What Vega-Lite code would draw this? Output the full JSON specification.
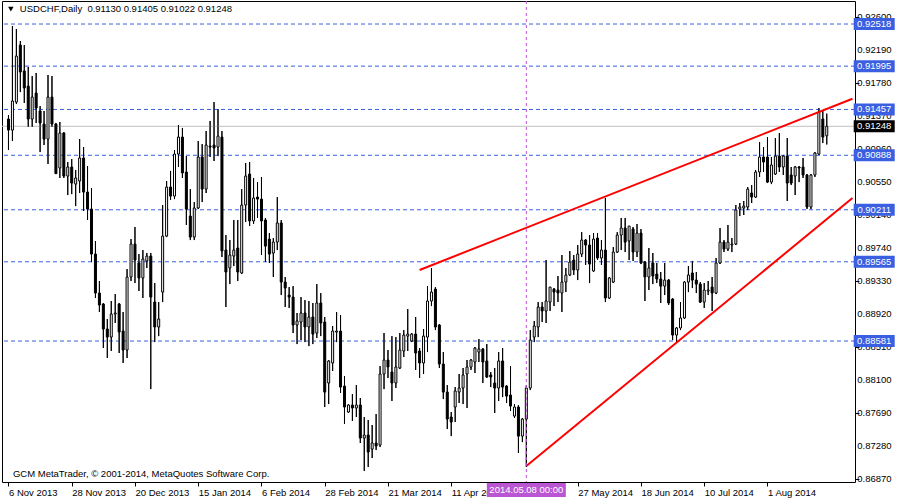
{
"$schema": "https://vega.github.io/schema/vega-lite/v6.json",
"width": 853, "height": 481,
"autosize": {"type": "none"},
"padding": {"left": 2, "top": 1, "right": 45, "bottom": 18},
"background": "white",
"config": {"view": {"stroke": "black", "strokeWidth": 1}, "font": "Liberation Sans"},
"datasets": {
"priceticks": [{"p":0.926},{"p":0.9219},{"p":0.9178},{"p":0.9137},{"p":0.9096},{"p":0.9055},{"p":0.9014},{"p":0.8974},{"p":0.8933},{"p":0.8892},{"p":0.8851},{"p":0.881},{"p":0.8769},{"p":0.8728},{"p":0.8687}],
"levels": [{"p":0.92518},{"p":0.91995},{"p":0.91457},{"p":0.90888},{"p":0.90211},{"p":0.89565},{"p":0.88581}],
"bid": [{"p":0.91248}],
"trend": [{"line":"upper","i":104,"p":0.89463},{"line":"upper","i":213.5,"p":0.91590},{"line":"lower","i":131,"p":0.87028},{"line":"lower","i":213.5,"p":0.90357}],
"cursor": [{"i":131,"label":"2014.05.08 00:00"}],
"header": [{"label":"USDCHF,Daily\u00a0\u00a00.91130 0.91405 0.91022 0.91248"}],
"footer": [{"label":"GCM MetaTrader, © 2001-2014, MetaQuotes Software Corp."}],
"candles": [
{"i":0,"o":0.91338,"h":0.91388,"l":0.90953,"c":0.91201},
{"i":1,"o":0.91201,"h":0.92493,"l":0.91065,"c":0.91562},
{"i":2,"o":0.91549,"h":0.92456,"l":0.91524,"c":0.92120},
{"i":3,"o":0.92257,"h":0.92307,"l":0.91673,"c":0.91922},
{"i":4,"o":0.91935,"h":0.92257,"l":0.91537,"c":0.91723},
{"i":5,"o":0.91747,"h":0.91984,"l":0.91239,"c":0.91338},
{"i":6,"o":0.91338,"h":0.91872,"l":0.91239,"c":0.91611},
{"i":7,"o":0.91661,"h":0.91910,"l":0.91289,"c":0.91475},
{"i":8,"o":0.91438,"h":0.91499,"l":0.90928,"c":0.91289},
{"i":9,"o":0.91276,"h":0.91438,"l":0.91015,"c":0.91089},
{"i":10,"o":0.91089,"h":0.91885,"l":0.90779,"c":0.91611},
{"i":11,"o":0.91611,"h":0.91872,"l":0.91239,"c":0.91276},
{"i":12,"o":0.91276,"h":0.91289,"l":0.90655,"c":0.90660},
{"i":13,"o":0.90730,"h":0.91301,"l":0.90606,"c":0.91164},
{"i":14,"o":0.91164,"h":0.91176,"l":0.90606,"c":0.90630},
{"i":15,"o":0.90630,"h":0.90804,"l":0.90394,"c":0.90742},
{"i":16,"o":0.90742,"h":0.90841,"l":0.90406,"c":0.90543},
{"i":17,"o":0.90530,"h":0.90705,"l":0.90257,"c":0.90606},
{"i":18,"o":0.90568,"h":0.91089,"l":0.90419,"c":0.90854},
{"i":19,"o":0.90854,"h":0.90990,"l":0.90196,"c":0.90431},
{"i":20,"o":0.90431,"h":0.90754,"l":0.90084,"c":0.90220},
{"i":21,"o":0.90220,"h":0.90481,"l":0.89562,"c":0.89661},
{"i":22,"o":0.89661,"h":0.89823,"l":0.89115,"c":0.89177},
{"i":23,"o":0.89177,"h":0.89326,"l":0.88941,"c":0.89028},
{"i":24,"o":0.89040,"h":0.89053,"l":0.88494,"c":0.88730},
{"i":25,"o":0.88730,"h":0.88854,"l":0.88370,"c":0.88630},
{"i":26,"o":0.88630,"h":0.89078,"l":0.88457,"c":0.88916},
{"i":27,"o":0.88916,"h":0.89164,"l":0.88805,"c":0.88929},
{"i":28,"o":0.89040,"h":0.89053,"l":0.88432,"c":0.88692},
{"i":29,"o":0.88705,"h":0.88941,"l":0.88308,"c":0.88469},
{"i":30,"o":0.88469,"h":0.89475,"l":0.88370,"c":0.89376},
{"i":31,"o":0.89376,"h":0.89847,"l":0.89326,"c":0.89785},
{"i":32,"o":0.89785,"h":0.89997,"l":0.89301,"c":0.89587},
{"i":33,"o":0.89550,"h":0.89661,"l":0.89202,"c":0.89364},
{"i":34,"o":0.89364,"h":0.89711,"l":0.89115,"c":0.89599},
{"i":35,"o":0.89575,"h":0.89674,"l":0.89488,"c":0.89636},
{"i":36,"o":0.89636,"h":0.89674,"l":0.87984,"c":0.89127},
{"i":37,"o":0.89065,"h":0.89301,"l":0.88568,"c":0.88755},
{"i":38,"o":0.88755,"h":0.89065,"l":0.88642,"c":0.88854},
{"i":39,"o":0.89189,"h":0.90270,"l":0.89065,"c":0.89884},
{"i":40,"o":0.89884,"h":0.90568,"l":0.89872,"c":0.90493},
{"i":41,"o":0.90493,"h":0.90693,"l":0.90332,"c":0.90381},
{"i":42,"o":0.90381,"h":0.90953,"l":0.90344,"c":0.90903},
{"i":43,"o":0.90903,"h":0.91264,"l":0.90742,"c":0.91114},
{"i":44,"o":0.91114,"h":0.91227,"l":0.90606,"c":0.90668},
{"i":45,"o":0.90680,"h":0.90878,"l":0.90022,"c":0.90220},
{"i":46,"o":0.90133,"h":0.90468,"l":0.89835,"c":0.89872},
{"i":47,"o":0.89872,"h":0.90307,"l":0.89835,"c":0.90233},
{"i":48,"o":0.90233,"h":0.91065,"l":0.90220,"c":0.90866},
{"i":49,"o":0.90866,"h":0.91027,"l":0.90307,"c":0.90468},
{"i":50,"o":0.90468,"h":0.91189,"l":0.90419,"c":0.91015},
{"i":51,"o":0.91002,"h":0.91314,"l":0.90866,"c":0.90990},
{"i":52,"o":0.91015,"h":0.91549,"l":0.90817,"c":0.90978},
{"i":53,"o":0.90990,"h":0.91462,"l":0.90878,"c":0.91126},
{"i":54,"o":0.91114,"h":0.91189,"l":0.89624,"c":0.89699},
{"i":55,"o":0.89711,"h":0.89897,"l":0.89003,"c":0.89438},
{"i":56,"o":0.89488,"h":0.89835,"l":0.89288,"c":0.89649},
{"i":57,"o":0.89636,"h":0.90084,"l":0.89512,"c":0.89711},
{"i":58,"o":0.89736,"h":0.90084,"l":0.89326,"c":0.89438},
{"i":59,"o":0.89426,"h":0.90468,"l":0.89413,"c":0.90270},
{"i":60,"o":0.90270,"h":0.90792,"l":0.90059,"c":0.90630},
{"i":61,"o":0.90655,"h":0.90804,"l":0.90009,"c":0.90072},
{"i":62,"o":0.90072,"h":0.90606,"l":0.90034,"c":0.90357},
{"i":63,"o":0.90369,"h":0.90555,"l":0.90109,"c":0.90344},
{"i":64,"o":0.90344,"h":0.90618,"l":0.89649,"c":0.90072},
{"i":65,"o":0.90084,"h":0.90109,"l":0.89562,"c":0.89760},
{"i":66,"o":0.89847,"h":0.89922,"l":0.89550,"c":0.89661},
{"i":67,"o":0.89674,"h":0.89860,"l":0.89376,"c":0.89810},
{"i":68,"o":0.89810,"h":0.90369,"l":0.89711,"c":0.90047},
{"i":69,"o":0.90047,"h":0.90084,"l":0.89152,"c":0.89313},
{"i":70,"o":0.89313,"h":0.89376,"l":0.89003,"c":0.89239},
{"i":71,"o":0.89152,"h":0.89251,"l":0.88991,"c":0.89127},
{"i":72,"o":0.89127,"h":0.89263,"l":0.88680,"c":0.88780},
{"i":73,"o":0.88780,"h":0.88929,"l":0.88543,"c":0.88830},
{"i":74,"o":0.88817,"h":0.89127,"l":0.88593,"c":0.88929},
{"i":75,"o":0.88929,"h":0.89090,"l":0.88568,"c":0.88755},
{"i":76,"o":0.88755,"h":0.89078,"l":0.88518,"c":0.88879},
{"i":77,"o":0.88879,"h":0.89053,"l":0.88543,"c":0.88667},
{"i":78,"o":0.88680,"h":0.89288,"l":0.88618,"c":0.89053},
{"i":79,"o":0.89053,"h":0.89177,"l":0.88642,"c":0.88805},
{"i":80,"o":0.88817,"h":0.88879,"l":0.87761,"c":0.87947},
{"i":81,"o":0.88059,"h":0.88345,"l":0.87798,"c":0.88333},
{"i":82,"o":0.88308,"h":0.88767,"l":0.88209,"c":0.88705},
{"i":83,"o":0.88692,"h":0.88941,"l":0.88568,"c":0.88705},
{"i":84,"o":0.88705,"h":0.88904,"l":0.87935,"c":0.88009},
{"i":85,"o":0.88021,"h":0.88146,"l":0.87550,"c":0.87761},
{"i":86,"o":0.87699,"h":0.87798,"l":0.87687,"c":0.87786},
{"i":87,"o":0.87786,"h":0.87922,"l":0.87588,"c":0.87749},
{"i":88,"o":0.87749,"h":0.88034,"l":0.87637,"c":0.87786},
{"i":89,"o":0.87786,"h":0.87873,"l":0.87314,"c":0.87376},
{"i":90,"o":0.87376,"h":0.87637,"l":0.86967,"c":0.87413},
{"i":91,"o":0.87413,"h":0.87600,"l":0.87016,"c":0.87202},
{"i":92,"o":0.87239,"h":0.87538,"l":0.87128,"c":0.87314},
{"i":93,"o":0.87314,"h":0.87674,"l":0.87227,"c":0.87276},
{"i":94,"o":0.87289,"h":0.88270,"l":0.87264,"c":0.88171},
{"i":95,"o":0.88171,"h":0.88680,"l":0.87984,"c":0.88345},
{"i":96,"o":0.88345,"h":0.88469,"l":0.88122,"c":0.88258},
{"i":97,"o":0.88196,"h":0.88642,"l":0.87836,"c":0.88059},
{"i":98,"o":0.88059,"h":0.88630,"l":0.87997,"c":0.88258},
{"i":99,"o":0.88246,"h":0.88680,"l":0.88233,"c":0.88469},
{"i":100,"o":0.88457,"h":0.88717,"l":0.88382,"c":0.88655},
{"i":101,"o":0.88642,"h":0.88978,"l":0.88457,"c":0.88667},
{"i":102,"o":0.88581,"h":0.88680,"l":0.88568,"c":0.88667},
{"i":103,"o":0.88667,"h":0.88879,"l":0.88221,"c":0.88432},
{"i":104,"o":0.88457,"h":0.88494,"l":0.88122,"c":0.88308},
{"i":105,"o":0.88308,"h":0.88730,"l":0.88171,"c":0.88642},
{"i":106,"o":0.88630,"h":0.89263,"l":0.88444,"c":0.89078},
{"i":107,"o":0.89078,"h":0.89488,"l":0.89015,"c":0.89189},
{"i":108,"o":0.89226,"h":0.89251,"l":0.88717,"c":0.88755},
{"i":109,"o":0.88780,"h":0.88792,"l":0.88246,"c":0.88295},
{"i":110,"o":0.88295,"h":0.88444,"l":0.87860,"c":0.87947},
{"i":111,"o":0.87947,"h":0.88034,"l":0.87488,"c":0.87612},
{"i":112,"o":0.87637,"h":0.87699,"l":0.87400,"c":0.87575},
{"i":113,"o":0.87761,"h":0.88009,"l":0.87575,"c":0.87960},
{"i":114,"o":0.87947,"h":0.88171,"l":0.87811,"c":0.87997},
{"i":115,"o":0.87997,"h":0.88246,"l":0.87798,"c":0.88159},
{"i":116,"o":0.88171,"h":0.88345,"l":0.87749,"c":0.88258},
{"i":117,"o":0.88258,"h":0.88357,"l":0.88221,"c":0.88345},
{"i":118,"o":0.88320,"h":0.88506,"l":0.88184,"c":0.88494},
{"i":119,"o":0.88444,"h":0.88605,"l":0.88320,"c":0.88481},
{"i":120,"o":0.88481,"h":0.88494,"l":0.88059,"c":0.88320},
{"i":121,"o":0.88333,"h":0.88543,"l":0.88122,"c":0.88134},
{"i":122,"o":0.88159,"h":0.88196,"l":0.88009,"c":0.88134},
{"i":123,"o":0.88059,"h":0.88246,"l":0.87687,"c":0.87997},
{"i":124,"o":0.87997,"h":0.88444,"l":0.87836,"c":0.88333},
{"i":125,"o":0.88333,"h":0.88494,"l":0.87885,"c":0.88009},
{"i":126,"o":0.88021,"h":0.88034,"l":0.87811,"c":0.87897},
{"i":127,"o":0.87910,"h":0.88270,"l":0.87712,"c":0.87773},
{"i":128,"o":0.87649,"h":0.87798,"l":0.87625,"c":0.87761},
{"i":129,"o":0.87761,"h":0.87786,"l":0.87190,"c":0.87400},
{"i":130,"o":0.87400,"h":0.87625,"l":0.87326,"c":0.87612},
{"i":131,"o":0.87612,"h":0.88034,"l":0.87016,"c":0.87997},
{"i":132,"o":0.87997,"h":0.88717,"l":0.87972,"c":0.88593},
{"i":133,"o":0.88630,"h":0.88830,"l":0.88568,"c":0.88767},
{"i":134,"o":0.88755,"h":0.89065,"l":0.88630,"c":0.89003},
{"i":135,"o":0.89003,"h":0.89065,"l":0.88817,"c":0.88954},
{"i":136,"o":0.88954,"h":0.89587,"l":0.88805,"c":0.89078},
{"i":137,"o":0.89065,"h":0.89251,"l":0.88954,"c":0.89251},
{"i":138,"o":0.89226,"h":0.89239,"l":0.89015,"c":0.89189},
{"i":139,"o":0.89214,"h":0.89388,"l":0.89065,"c":0.89177},
{"i":140,"o":0.89177,"h":0.89649,"l":0.88941,"c":0.89313},
{"i":141,"o":0.89313,"h":0.89488,"l":0.89189,"c":0.89401},
{"i":142,"o":0.89401,"h":0.89699,"l":0.89388,"c":0.89562},
{"i":143,"o":0.89587,"h":0.89649,"l":0.89401,"c":0.89463},
{"i":144,"o":0.89463,"h":0.89773,"l":0.89338,"c":0.89661},
{"i":145,"o":0.89661,"h":0.89934,"l":0.89624,"c":0.89835},
{"i":146,"o":0.89835,"h":0.89847,"l":0.89525,"c":0.89773},
{"i":147,"o":0.89773,"h":0.89897,"l":0.89301,"c":0.89537},
{"i":148,"o":0.89451,"h":0.89922,"l":0.89438,"c":0.89847},
{"i":149,"o":0.89860,"h":0.89922,"l":0.89587,"c":0.89612},
{"i":150,"o":0.89612,"h":0.89835,"l":0.89525,"c":0.89711},
{"i":151,"o":0.89711,"h":0.90357,"l":0.89065,"c":0.89115},
{"i":152,"o":0.89115,"h":0.89376,"l":0.89102,"c":0.89364},
{"i":153,"o":0.89313,"h":0.89748,"l":0.89301,"c":0.89686},
{"i":154,"o":0.89686,"h":0.89934,"l":0.89674,"c":0.89897},
{"i":155,"o":0.89897,"h":0.90109,"l":0.89711,"c":0.89985},
{"i":156,"o":0.89985,"h":0.90109,"l":0.89686,"c":0.89810},
{"i":157,"o":0.89823,"h":0.89997,"l":0.89587,"c":0.90009},
{"i":158,"o":0.89972,"h":0.89997,"l":0.89575,"c":0.89686},
{"i":159,"o":0.89686,"h":0.90034,"l":0.89624,"c":0.89922},
{"i":160,"o":0.89922,"h":0.89972,"l":0.89537,"c":0.89550},
{"i":161,"o":0.89562,"h":0.89575,"l":0.89078,"c":0.89376},
{"i":162,"o":0.89376,"h":0.89736,"l":0.89214,"c":0.89488},
{"i":163,"o":0.89550,"h":0.89674,"l":0.89288,"c":0.89388},
{"i":164,"o":0.89413,"h":0.89550,"l":0.89301,"c":0.89351},
{"i":165,"o":0.89351,"h":0.89438,"l":0.89053,"c":0.89263},
{"i":166,"o":0.89263,"h":0.89550,"l":0.89152,"c":0.89338},
{"i":167,"o":0.89338,"h":0.89351,"l":0.89028,"c":0.89053},
{"i":168,"o":0.89102,"h":0.89115,"l":0.88593,"c":0.88655},
{"i":169,"o":0.88655,"h":0.88755,"l":0.88568,"c":0.88743},
{"i":170,"o":0.88743,"h":0.89065,"l":0.88717,"c":0.88867},
{"i":171,"o":0.88867,"h":0.89326,"l":0.88854,"c":0.89313},
{"i":172,"o":0.89313,"h":0.89512,"l":0.89189,"c":0.89401},
{"i":173,"o":0.89426,"h":0.89575,"l":0.89239,"c":0.89338},
{"i":174,"o":0.89338,"h":0.89438,"l":0.89177,"c":0.89288},
{"i":175,"o":0.89288,"h":0.89313,"l":0.89053,"c":0.89065},
{"i":176,"o":0.89065,"h":0.89301,"l":0.88991,"c":0.89214},
{"i":177,"o":0.89202,"h":0.89326,"l":0.89152,"c":0.89214},
{"i":178,"o":0.89251,"h":0.89376,"l":0.88954,"c":0.89177},
{"i":179,"o":0.89177,"h":0.89612,"l":0.89164,"c":0.89550},
{"i":180,"o":0.89550,"h":0.89985,"l":0.89537,"c":0.89810},
{"i":181,"o":0.89810,"h":0.89835,"l":0.89686,"c":0.89723},
{"i":182,"o":0.89723,"h":0.90022,"l":0.89699,"c":0.89810},
{"i":183,"o":0.89773,"h":0.89860,"l":0.89686,"c":0.89785},
{"i":184,"o":0.89785,"h":0.90270,"l":0.89773,"c":0.90208},
{"i":185,"o":0.90220,"h":0.90295,"l":0.90133,"c":0.90245},
{"i":186,"o":0.90233,"h":0.90320,"l":0.90146,"c":0.90257},
{"i":187,"o":0.90245,"h":0.90493,"l":0.90208,"c":0.90468},
{"i":188,"o":0.90419,"h":0.90518,"l":0.90295,"c":0.90369},
{"i":189,"o":0.90369,"h":0.90705,"l":0.90357,"c":0.90680},
{"i":190,"o":0.90680,"h":0.91052,"l":0.90618,"c":0.90866},
{"i":191,"o":0.90866,"h":0.90990,"l":0.90680,"c":0.90804},
{"i":192,"o":0.90866,"h":0.91114,"l":0.90543,"c":0.90555},
{"i":193,"o":0.90555,"h":0.90866,"l":0.90530,"c":0.90767},
{"i":194,"o":0.90655,"h":0.91102,"l":0.90643,"c":0.90878},
{"i":195,"o":0.90878,"h":0.91164,"l":0.90680,"c":0.90742},
{"i":196,"o":0.90742,"h":0.90891,"l":0.90643,"c":0.90878},
{"i":197,"o":0.90878,"h":0.91102,"l":0.90320,"c":0.90543},
{"i":198,"o":0.90643,"h":0.90742,"l":0.90518,"c":0.90543},
{"i":199,"o":0.90630,"h":0.90754,"l":0.90394,"c":0.90742},
{"i":200,"o":0.90742,"h":0.90754,"l":0.90555,"c":0.90730},
{"i":201,"o":0.90742,"h":0.90854,"l":0.90606,"c":0.90643},
{"i":202,"o":0.90643,"h":0.90655,"l":0.90220,"c":0.90245},
{"i":203,"o":0.90245,"h":0.90655,"l":0.90220,"c":0.90643},
{"i":204,"o":0.90643,"h":0.90928,"l":0.90618,"c":0.90916},
{"i":205,"o":0.90903,"h":0.91475,"l":0.90890,"c":0.91425},
{"i":206,"o":0.91338,"h":0.91450,"l":0.91040,"c":0.91114},
{"i":207,"o":0.91130,"h":0.91405,"l":0.91022,"c":0.91248}
]
},
"layer": [
{"data": {"name": "candles"}, "mark": {"type": "rule", "color": "black", "strokeWidth": 1},
 "encoding": {
  "x": {"field": "i", "type": "quantitative", "scale": {"domain": [-0.375, 212.875], "nice": false, "zero": false},
   "axis": {"orient": "bottom", "title": null, "grid": false, "domain": false, "values": [0,16,32,48,64,80,96,112,144,160,176,192],
    "labelExpr": "['6 Nov 2013','28 Nov 2013','20 Dec 2013','15 Jan 2014','6 Feb 2014','28 Feb 2014','21 Mar 2014','11 Apr 2014','','27 May 2014','18 Jun 2014','10 Jul 2014','1 Aug 2014'][round(datum.value/16)]",
    "ticks": true, "tickSize": 4, "tickColor": "black", "labelAlign": "left", "labelBaseline": "top", "labelPadding": 1,
    "labelFont": "Liberation Sans", "labelFontSize": 9.5, "labelColor": "black", "labelOverlap": false, "labelFlush": false}},
  "y": {"field": "l", "type": "quantitative", "scale": {"domain": [0.8683, 0.92804], "nice": false, "zero": false},
   "axis": {"orient": "right", "title": null, "grid": false, "domain": false, "labels": false,
    "values": [0.926,0.9219,0.9178,0.9137,0.9096,0.9055,0.9014,0.8974,0.8933,0.8892,0.8851,0.881,0.8769,0.8728,0.8687],
    "ticks": true, "tickSize": 4, "tickColor": "black"}},
  "y2": {"field": "h"}}},
{"data": {"name": "priceticks"}, "mark": {"type": "text", "color": "black", "font": "Liberation Sans", "fontSize": 9.5, "align": "left", "baseline": "middle"},
 "encoding": {"x": {"datum": 214.7, "type": "quantitative"}, "y": {"field": "p", "type": "quantitative", "title": null}, "text": {"field": "p", "format": ".5f"}}},
{"data": {"name": "levels"}, "mark": {"type": "rule", "color": "#3A5FE0", "strokeDash": [4, 3], "strokeWidth": 1},
 "encoding": {"y": {"field": "p", "type": "quantitative", "title": null}}},
{"data": {"name": "bid"}, "mark": {"type": "rule", "color": "#C0C0C0", "strokeWidth": 1},
 "encoding": {"y": {"field": "p", "type": "quantitative", "title": null}}},
{"data": {"name": "candles"}, "mark": {"type": "rule", "color": "black", "strokeWidth": 1},
 "encoding": {
  "x": {"field": "i", "type": "quantitative", "title": null},
  "y": {"field": "l", "type": "quantitative", "title": null},
  "y2": {"field": "h"}}},
{"data": {"name": "candles"}, "mark": {"type": "bar", "orient": "vertical", "width": 2, "stroke": "black", "strokeWidth": 1},
 "encoding": {
  "x": {"field": "i", "type": "quantitative", "title": null},
  "y": {"field": "o", "type": "quantitative", "title": null},
  "y2": {"field": "c"},
  "fill": {"condition": {"test": "datum.c > datum.o", "value": "white"}, "value": "black"}}},
{"data": {"name": "trend"}, "mark": {"type": "line", "color": "#FF0000", "strokeWidth": 2, "clip": true},
 "encoding": {"x": {"field": "i", "type": "quantitative", "title": null}, "y": {"field": "p", "type": "quantitative", "title": null}, "detail": {"field": "line"}}},
{"data": {"name": "cursor"}, "mark": {"type": "rule", "color": "#BA55D3", "strokeDash": [3, 3], "strokeWidth": 1},
 "encoding": {"x": {"field": "i", "type": "quantitative", "title": null}}},
{"data": {"name": "levels"}, "mark": {"type": "point", "filled": true, "shape": "M-1,-0.2927L1,-0.2927L1,0.2927L-1,0.2927Z", "size": 1681, "fill": "#3A5FE0", "opacity": 1, "strokeWidth": 0},
 "encoding": {"x": {"datum": 219, "type": "quantitative"}, "y": {"field": "p", "type": "quantitative", "title": null}}},
{"data": {"name": "bid"}, "mark": {"type": "point", "filled": true, "shape": "M-1,-0.2927L1,-0.2927L1,0.2927L-1,0.2927Z", "size": 1681, "fill": "black", "opacity": 1, "strokeWidth": 0},
 "encoding": {"x": {"datum": 219, "type": "quantitative"}, "y": {"field": "p", "type": "quantitative", "title": null}}},
{"data": {"name": "levels"}, "mark": {"type": "text", "color": "white", "font": "Liberation Sans", "fontSize": 9.5, "align": "center", "baseline": "middle"},
 "encoding": {"x": {"datum": 219, "type": "quantitative"}, "y": {"field": "p", "type": "quantitative", "title": null}, "text": {"field": "p", "format": ".5f"}}},
{"data": {"name": "bid"}, "mark": {"type": "text", "color": "white", "font": "Liberation Sans", "fontSize": 9.5, "align": "center", "baseline": "middle"},
 "encoding": {"x": {"datum": 219, "type": "quantitative"}, "y": {"field": "p", "type": "quantitative", "title": null}, "text": {"field": "p", "format": ".5f"}}},
{"data": {"name": "cursor"}, "mark": {"type": "point", "filled": true, "shape": "M-1,-0.1772L1,-0.1772L1,0.1772L-1,0.1772Z", "size": 6241, "fill": "#BA55D3", "opacity": 1, "strokeWidth": 0},
 "encoding": {"x": {"field": "i", "type": "quantitative", "title": null}, "y": {"datum": 0.8673, "type": "quantitative"}}},
{"data": {"name": "cursor"}, "mark": {"type": "text", "color": "white", "font": "Liberation Sans", "fontSize": 9.5, "align": "center", "baseline": "middle"},
 "encoding": {"x": {"field": "i", "type": "quantitative", "title": null}, "y": {"datum": 0.8673, "type": "quantitative"}, "text": {"field": "label"}}},
{"data": {"name": "header"}, "mark": {"type": "point", "filled": true, "shape": "triangle-down", "size": 30, "color": "black", "opacity": 1},
 "encoding": {"x": {"datum": 0.6, "type": "quantitative"}, "y": {"datum": 0.92704, "type": "quantitative"}}},
{"data": {"name": "header"}, "mark": {"type": "text", "color": "black", "font": "Liberation Sans", "fontSize": 9.5, "align": "left", "baseline": "middle"},
 "encoding": {"x": {"datum": 2.875, "type": "quantitative"}, "y": {"datum": 0.92704, "type": "quantitative"}, "text": {"field": "label"}}},
{"data": {"name": "footer"}, "mark": {"type": "text", "color": "black", "font": "Liberation Sans", "fontSize": 9.5, "align": "left", "baseline": "middle"},
 "encoding": {"x": {"datum": 1.125, "type": "quantitative"}, "y": {"datum": 0.86929, "type": "quantitative"}, "text": {"field": "label"}}}
]
}
